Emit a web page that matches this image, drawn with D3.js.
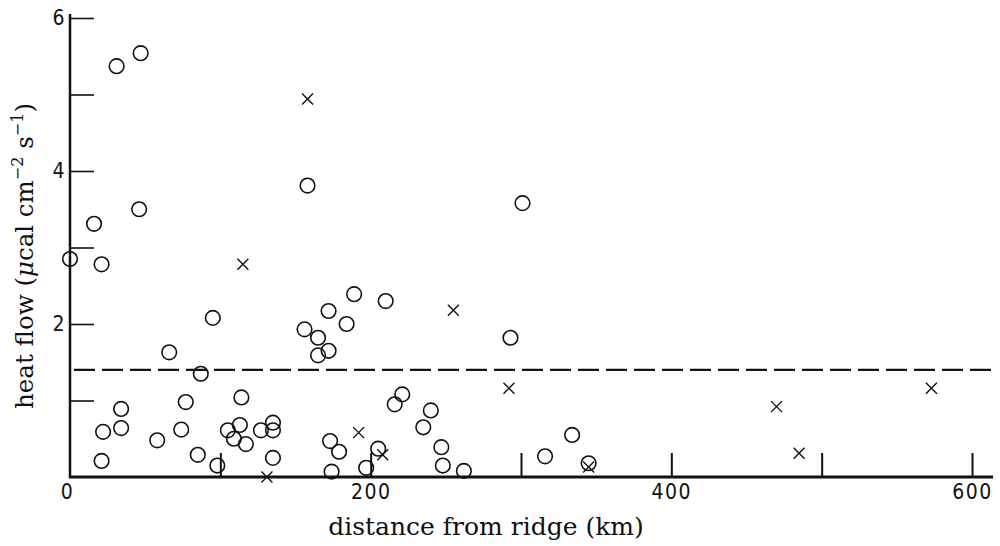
<!DOCTYPE html>
<html>
<head>
<meta charset="utf-8">
<script src="https://cdn.jsdelivr.net/npm/d3@7"></script>
<style>
  body { margin: 0; background: #fff; }
  svg { display: block; }
  .tick-label text { font-family: "Liberation Sans Narrow", "DejaVu Sans Condensed", sans-serif; font-size: 21px; fill: #111; letter-spacing: 1.5px; }
  .title { font-family: "DejaVu Serif", "Liberation Serif", serif; fill: #111; }
</style>
</head>
<body>
<div class="canvas"></div>
<script>
// open circles: distance from ridge (km) and heat flow
const circleDist = [0, 16, 21, 31, 47, 46, 22, 21, 34, 34, 58, 66, 95, 87, 77, 74, 85, 98,
  114, 105, 113, 109, 117, 127, 135, 135, 135, 158, 156, 165, 172, 184, 189, 210, 172, 165,
  173, 179, 174, 197, 205, 221, 216, 240, 235, 247, 248, 262, 301, 293, 316, 334, 345];
const circleFlow = [2.85, 3.31, 2.78, 5.37, 5.54, 3.50, 0.59, 0.21, 0.89, 0.64, 0.48, 1.63, 2.08, 1.35, 0.98, 0.62, 0.29, 0.15,
  1.04, 0.61, 0.68, 0.50, 0.43, 0.61, 0.71, 0.61, 0.25, 3.81, 1.93, 1.82, 2.17, 2.00, 2.39, 2.30, 1.65, 1.59,
  0.47, 0.33, 0.07, 0.12, 0.37, 1.08, 0.95, 0.87, 0.65, 0.39, 0.15, 0.08, 3.58, 1.82, 0.27, 0.55, 0.18];

// crosses
const crossDist = [158, 115, 255, 292, 192, 208, 131, 345, 470, 485, 573];
const crossFlow = [4.94, 2.78, 2.18, 1.16, 0.58, 0.29, 0.0, 0.13, 0.92, 0.31, 1.16];

const meanFlow = 1.4;

const xTicks = [100, 200, 300, 400, 500, 600];
const xLabels = [0, 200, 400, 600];
const yTicks = [1, 2, 3, 4, 5, 6];
const yLabels = [2, 4, 6];

const dims = { width: 1000, height: 546 };
const plot = { left: 70, right: 993, top: 14, bottom: 477 };

const svg = d3.select('.canvas')
  .append('svg')
  .attr('width', dims.width)
  .attr('height', dims.height);

const x = d3.scaleLinear().domain([0, 600]).range([plot.left, 972]);
const y = d3.scaleLinear().domain([0, 6]).range([plot.bottom, 18]);

// mean line
svg.append('line')
  .attr('x1', plot.left + 4).attr('x2', plot.right)
  .attr('y1', y(meanFlow)).attr('y2', y(meanFlow))
  .attr('stroke', '#111').attr('stroke-width', 2.2)
  .attr('stroke-dasharray', '21 7');

// tick marks
const xTickAxis = svg.append('g')
  .attr('transform', `translate(0, ${plot.bottom})`)
  .call(d3.axisBottom(x).tickValues(xTicks).tickSizeInner(-24).tickSizeOuter(0).tickFormat(''));
xTickAxis.select('.domain').remove();
xTickAxis.selectAll('line').attr('stroke', '#111').attr('stroke-width', 2);

const yTickAxis = svg.append('g')
  .attr('transform', `translate(${plot.left}, 0)`)
  .call(d3.axisLeft(y).tickValues(yTicks).tickSizeInner(-24).tickSizeOuter(0).tickFormat(''));
yTickAxis.select('.domain').remove();
yTickAxis.selectAll('line').attr('stroke', '#111').attr('stroke-width', 1.6);

// axis lines
svg.append('line')
  .attr('x1', plot.left).attr('x2', plot.left)
  .attr('y1', plot.top).attr('y2', plot.bottom + 1)
  .attr('stroke', '#111').attr('stroke-width', 2.5);
svg.append('line')
  .attr('x1', plot.left - 1).attr('x2', plot.right)
  .attr('y1', plot.bottom).attr('y2', plot.bottom)
  .attr('stroke', '#111').attr('stroke-width', 3.2);

// tick labels
const xLab = svg.append('g')
  .attr('class', 'tick-label')
  .attr('transform', `translate(0, ${plot.bottom})`)
  .call(d3.axisBottom(x).tickValues(xLabels).tickSize(0).tickPadding(7).tickFormat(d3.format('d')));
xLab.select('.domain').remove();
xLab.selectAll('text').attr('dy', '0.71em')
  .attr('dx', d => d === 0 ? -3 : 0);

const yLab = svg.append('g')
  .attr('class', 'tick-label')
  .attr('transform', `translate(${plot.left}, 0)`)
  .call(d3.axisLeft(y).tickValues(yLabels).tickSize(0).tickPadding(4).tickFormat(d3.format('d')));
yLab.select('.domain').remove();

// marks
svg.append('g')
  .selectAll('circle')
  .data(circleDist.map((d, i) => ({ dist: d, flow: circleFlow[i] })))
  .join('circle')
  .attr('cx', d => x(d.dist))
  .attr('cy', d => y(d.flow))
  .attr('r', 7.3)
  .attr('fill', 'none')
  .attr('stroke', '#111')
  .attr('stroke-width', 1.6);

const s = 5.5;
svg.append('g')
  .selectAll('path')
  .data(crossDist.map((d, i) => ({ dist: d, flow: crossFlow[i] })))
  .join('path')
  .attr('d', d => {
    const cx = x(d.dist), cy = y(d.flow);
    return `M${cx - s},${cy - s}L${cx + s},${cy + s}M${cx - s},${cy + s}L${cx + s},${cy - s}`;
  })
  .attr('stroke', '#111')
  .attr('stroke-width', 1.4)
  .attr('fill', 'none');

// axis titles
svg.append('text')
  .attr('class', 'title')
  .attr('font-size', '25px')
  .attr('x', 486).attr('y', 535)
  .attr('text-anchor', 'middle')
  .text('distance from ridge (km)');

const yTitle = svg.append('text')
  .attr('class', 'title')
  .attr('font-size', '24.5px')
  .attr('text-anchor', 'middle')
  .attr('transform', 'translate(33, 256) rotate(-90)');
yTitle.append('tspan').text('heat flow (');
yTitle.append('tspan').attr('font-style', 'italic').text('μ');
yTitle.append('tspan').text('cal cm');
yTitle.append('tspan').attr('font-size', '16px').attr('dy', -10).text('−2');
yTitle.append('tspan').attr('dy', 10).text(' s');
yTitle.append('tspan').attr('font-size', '16px').attr('dy', -10).text('−1');
yTitle.append('tspan').attr('dy', 10).text(')');
</script>
</body>
</html>
